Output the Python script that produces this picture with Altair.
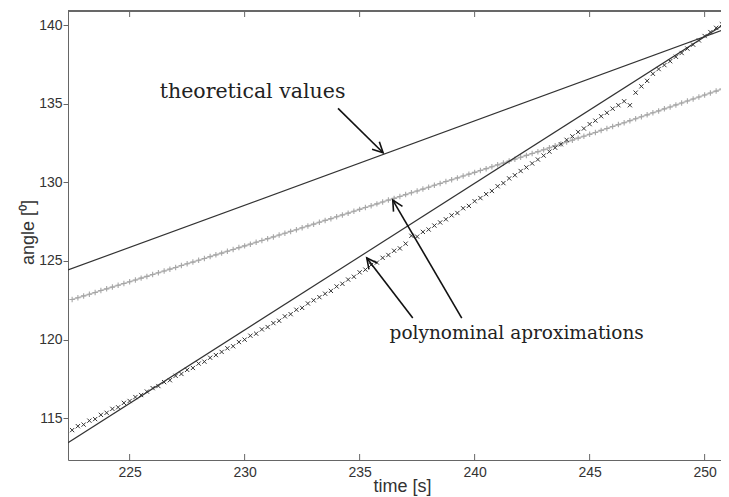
import math
import altair as alt
import pandas as pd

# ---------------- data ----------------
time_s = [
    222.50, 222.75, 223.00, 223.25, 223.50, 223.75, 224.00, 224.25, 224.50, 224.75,
    225.00, 225.25, 225.50, 225.75, 226.00, 226.25, 226.50, 226.75, 227.00, 227.25,
    227.50, 227.75, 228.00, 228.25, 228.50, 228.75, 229.00, 229.25, 229.50, 229.75,
    230.00, 230.25, 230.50, 230.75, 231.00, 231.25, 231.50, 231.75, 232.00, 232.25,
    232.50, 232.75, 233.00, 233.25, 233.50, 233.75, 234.00, 234.25, 234.50, 234.75,
    235.00, 235.25, 235.50, 235.75, 236.00, 236.25, 236.50, 236.75, 237.00, 237.25,
    237.50, 237.75, 238.00, 238.25, 238.50, 238.75, 239.00, 239.25, 239.50, 239.75,
    240.00, 240.25, 240.50, 240.75, 241.00, 241.25, 241.50, 241.75, 242.00, 242.25,
    242.50, 242.75, 243.00, 243.25, 243.50, 243.75, 244.00, 244.25, 244.50, 244.75,
    245.00, 245.25, 245.50, 245.75, 246.00, 246.25, 246.50, 246.75, 247.00, 247.25,
    247.50, 247.75, 248.00, 248.25, 248.50, 248.75, 249.00, 249.25, 249.50, 249.75,
    250.00, 250.25, 250.50, 250.75,
]

# grey markers (polynomial approximation, slow joint)
grey_fit = [
    122.55, 122.66, 122.78, 122.89, 123.00, 123.12, 123.23, 123.34, 123.46, 123.57,
    123.68, 123.79, 123.91, 124.02, 124.14, 124.25, 124.36, 124.48, 124.59, 124.71,
    124.82, 124.93, 125.05, 125.16, 125.28, 125.39, 125.50, 125.62, 125.73, 125.85,
    125.96, 126.07, 126.19, 126.30, 126.42, 126.53, 126.65, 126.76, 126.88, 126.99,
    127.11, 127.23, 127.34, 127.46, 127.58, 127.69, 127.81, 127.93, 128.04, 128.16,
    128.28, 128.40, 128.51, 128.63, 128.75, 128.87, 128.98, 129.10, 129.22, 129.34,
    129.45, 129.57, 129.69, 129.81, 129.93, 130.05, 130.16, 130.28, 130.40, 130.52,
    130.63, 130.75, 130.87, 130.99, 131.11, 131.23, 131.35, 131.47, 131.59, 131.71,
    131.83, 131.95, 132.07, 132.20, 132.32, 132.44, 132.56, 132.68, 132.81, 132.93,
    133.05, 133.17, 133.30, 133.42, 133.55, 133.67, 133.79, 133.92, 134.04, 134.17,
    134.29, 134.42, 134.54, 134.67, 134.79, 134.92, 135.04, 135.17, 135.30, 135.42,
    135.55, 135.68, 135.80, 135.93,
]

# dark "x" markers (polynomial approximation, fast joint)
dark_fit = [
    114.25, 114.50, 114.60, 114.85, 114.95, 115.22, 115.35, 115.60, 115.70, 115.98,
    116.10, 116.35, 116.48, 116.70, 116.92, 117.05, 117.30, 117.42, 117.70, 117.82,
    118.08, 118.20, 118.48, 118.60, 118.85, 119.02, 119.22, 119.45, 119.58, 119.85,
    120.00, 120.25, 120.38, 120.65, 120.80, 121.05, 121.20, 121.48, 121.62, 121.90,
    122.02, 122.30, 122.50, 122.70, 122.92, 123.10, 123.38, 123.55, 123.82, 124.00,
    124.28, 124.45, 124.75, 124.90, 125.20, 125.38, 125.65, 125.80, 126.10, 126.60,
    126.55, 126.85, 127.00, 127.25, 127.45, 127.65, 127.90, 128.05, 128.35, 128.50,
    128.80, 129.00, 129.25, 129.45, 129.75, 129.95, 130.25, 130.45, 130.72, 130.95,
    131.20, 131.45, 131.70, 131.95, 132.20, 132.42, 132.70, 132.92, 133.20, 133.42,
    133.70, 133.92, 134.20, 134.42, 134.68, 134.90, 135.15, 134.90, 135.70, 136.10,
    136.45, 136.90, 137.20, 137.45, 137.70, 137.98, 138.22, 138.50, 138.75, 139.02,
    139.30, 139.55, 139.82, 140.05,
]

# theoretical values (straight lines)
line_t = [222.32, 251.06]
theory_upper = [124.43, 139.83]
theory_steep = [113.45, 140.25]

x_ticks = [225, 230, 235, 240, 245, 250]
y_ticks = [115, 120, 125, 130, 135, 140]

label_theory = "theoretical values"
label_theory_t, label_theory_v = 226.31, 135.36
label_poly = "polynominal aproximations"
label_poly_t, label_poly_v = 236.30, 120.04

arrow_tail_t = [234.06, 237.31, 239.44]
arrow_tail_v = [134.70, 121.37, 121.37]
arrow_tip_t = [236.02, 235.31, 236.44]
arrow_tip_v = [131.88, 125.19, 128.87]

# ---------------- layout ----------------
W, H = 653, 449
X_DOMAIN = [222.32, 222.32 + W / 23.0]
Y_DOMAIN = [112.35, 140.89]
AXIS_GREY = "#666666"
INK = "#333333"

px_t = W / (X_DOMAIN[1] - X_DOMAIN[0])
px_v = H / (Y_DOMAIN[1] - Y_DOMAIN[0])
angles = []
for a, b, c, d in zip(arrow_tail_t, arrow_tail_v, arrow_tip_t, arrow_tip_v):
    dx = (c - a) * px_t
    dy = -(d - b) * px_v
    angles.append(math.degrees(math.atan2(dx, -dy)) % 360)

xs = alt.Scale(domain=X_DOMAIN, nice=False, zero=False)
ys = alt.Scale(domain=Y_DOMAIN, nice=False, zero=False)

x_axis = alt.Axis(
    title="time [s]", values=x_ticks, ticks=False, labelPadding=5,
    titleX=334, titleY=31, titleBaseline="alphabetic", titleAlign="center",
    titleFontSize=18, labelFontSize=14, grid=False,
)
y_axis = alt.Axis(
    title="angle [⁰]", values=y_ticks, tickSize=5, labelPadding=1,
    titleX=-35, titleY=221, titleAngle=270, titleBaseline="alphabetic",
    titleAlign="center", titleFontSize=18, labelFontSize=14, grid=False,
)


def X(field):
    return alt.X(field, scale=xs, axis=x_axis)


def Y(field):
    return alt.Y(field, scale=ys, axis=y_axis)


df_grey = pd.DataFrame({"t": time_s, "v": grey_fit})
df_dark = pd.DataFrame({"t": time_s, "v": dark_fit})
df_lines = pd.DataFrame({
    "t": line_t + line_t,
    "v": theory_upper + theory_steep,
    "s": ["upper"] * 2 + ["steep"] * 2,
})
df_t1 = pd.DataFrame({"t": [label_theory_t], "v": [label_theory_v], "label": [label_theory]})
df_t2 = pd.DataFrame({"t": [label_poly_t], "v": [label_poly_v], "label": [label_poly]})
df_arrow = pd.DataFrame({
    "t": arrow_tail_t, "v": arrow_tail_v,
    "t2": arrow_tip_t, "v2": arrow_tip_v,
    "ang": angles,
})
df_xt = pd.DataFrame({"t": x_ticks})

grey_line = alt.Chart(df_grey).mark_line(
    color="#c4c4c4", strokeWidth=1.6, clip=True,
).encode(x=X("t:Q"), y=Y("v:Q"))

grey = alt.Chart(df_grey).mark_point(
    shape="M-1,0L1,0M0,-1L0,1", filled=False, size=30, strokeWidth=1.1,
    color="#a6a6a6", opacity=1, clip=True,
).encode(x=X("t:Q"), y=Y("v:Q"))

dark = alt.Chart(df_dark).mark_point(
    shape="M-1,-1L1,1M1,-1L-1,1", filled=False, size=18, strokeWidth=1.0,
    color="#333333", opacity=1, clip=True,
).encode(x=X("t:Q"), y=Y("v:Q"))

lines = alt.Chart(df_lines).mark_line(color=INK, strokeWidth=1.2, clip=True).encode(
    x=X("t:Q"), y=Y("v:Q"), detail="s:N",
)

text_theory = alt.Chart(df_t1).mark_text(
    align="left", baseline="alphabetic", font="DejaVu Serif", fontSize=20.5, color="#222222",
).encode(x=X("t:Q"), y=Y("v:Q"), text="label:N")

text_poly = alt.Chart(df_t2).mark_text(
    align="left", baseline="alphabetic", font="DejaVu Serif", fontSize=18.5, color="#222222",
).encode(x=X("t:Q"), y=Y("v:Q"), text="label:N")

shafts = alt.Chart(df_arrow).mark_rule(color="#111111", strokeWidth=1.6).encode(
    x=X("t:Q"), y=Y("v:Q"), x2="t2:Q", y2="v2:Q",
)

heads = alt.Chart(df_arrow).mark_point(
    shape="M-0.5,1L0,0L0.5,1", filled=False, size=430, strokeWidth=1.6,
    color="#111111", opacity=1,
).encode(
    x=X("t2:Q"), y=Y("v2:Q"),
    angle=alt.Angle("ang:Q", scale=None),
)

bottom_ticks = alt.Chart(df_xt).mark_rule(color=AXIS_GREY, strokeWidth=1).encode(
    x=X("t:Q"), y=alt.value(H - 6), y2=alt.value(H),
)
top_ticks = alt.Chart(df_xt).mark_rule(color=AXIS_GREY, strokeWidth=1).encode(
    x=X("t:Q"), y=alt.value(0), y2=alt.value(6),
)
top_border = alt.Chart(df_xt).mark_rule(color=AXIS_GREY, strokeWidth=1).encode(
    x=alt.value(0), x2=alt.value(W), y=alt.value(0),
)

chart = alt.layer(
    grey_line, grey, dark, lines, text_theory, text_poly, shafts, heads,
    bottom_ticks, top_ticks, top_border,
).properties(
    width=W, height=H,
    padding={"left": 60, "top": 3, "right": 0, "bottom": 38},
    autosize="none",
    background="white",
).configure_view(stroke=None).configure_axis(
    domainColor=AXIS_GREY, tickColor=AXIS_GREY, labelColor=INK, titleColor=INK,
    labelFont="Liberation Sans", titleFont="Liberation Sans", titleFontWeight="normal",
)

chart.save("out.html", embed_options={"renderer": "svg", "actions": False})
